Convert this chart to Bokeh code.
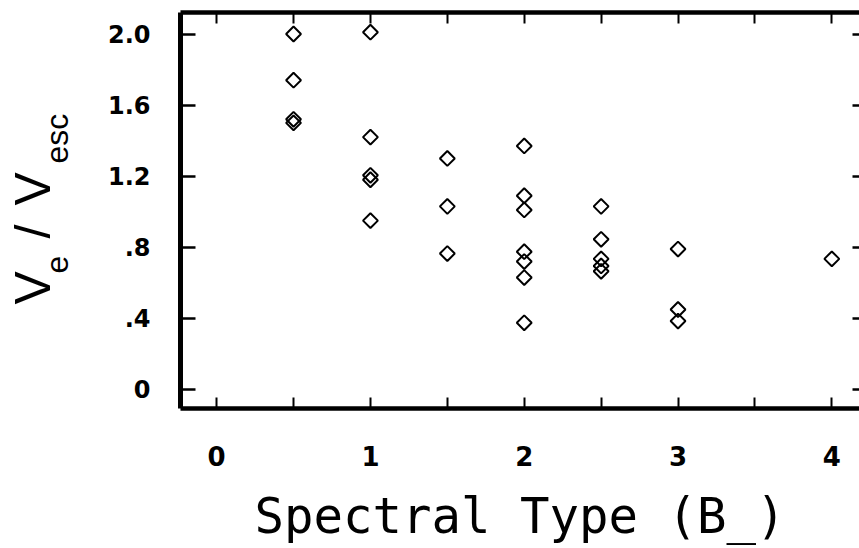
import numpy as np
from bokeh.plotting import figure
from bokeh.models import LinearAxis, FixedTicker, Range1d
from bokeh.layouts import row
from bokeh.core.properties import value
from bokeh.embed import file_html
from bokeh.resources import INLINE

# ---- data ----
spectral_type = [0.5, 0.5, 0.5, 0.5,
                 1, 1, 1, 1, 1,
                 1.5, 1.5, 1.5,
                 2, 2, 2, 2, 2, 2, 2,
                 2.5, 2.5, 2.5, 2.5, 2.5,
                 3, 3, 3,
                 4]
ve_over_vesc = [2.00, 1.74, 1.52, 1.50,
                2.01, 1.42, 1.205, 1.18, 0.95,
                1.30, 1.03, 0.765,
                1.37, 1.09, 1.01, 0.775, 0.72, 0.63, 0.375,
                1.03, 0.845, 0.735, 0.695, 0.665,
                0.79, 0.45, 0.385,
                0.735]

x_ticks = [0, 1, 2, 3, 4]
x_minor_ticks = [0.5, 1.5, 2.5, 3.5]
x_tick_labels = ["0", "1", "2", "3", "4"]
y_ticks = [0, 0.4, 0.8, 1.2, 1.6, 2.0]
y_tick_labels = ["0", ".4", ".8", "1.2", "1.6", "2.0"]
x_title = "Spectral Type (B_)"
# y title pieces: V_e / V_esc  (big / subscript)
y_title_big = ["V", "/", "V"]
y_title_sub = ["e", "esc"]

# ---- layout ----
W, H = 859, 548
LW = 96                      # width of the strip that holds the y title
FL, FR, FT, FB = 180, 859, 12, 408
X0, X1 = -0.235, 4.18
Y0, Y1 = -0.107, 2.121

p = figure(width=W - LW, height=H, x_range=Range1d(X0, X1), y_range=Range1d(Y0, Y1),
           output_backend="svg", toolbar_location=None,
           x_axis_location=None, y_axis_location=None,
           min_border_left=FL - LW, min_border_right=W - FR,
           min_border_top=FT, min_border_bottom=H - FB)
p.grid.visible = False
p.outline_line_color = None
p.background_fill_color = "white"
p.border_fill_color = "white"

TICK_FONT = "DejaVu Sans"

def xaxis(loc, labels):
    ax = LinearAxis(ticker=FixedTicker(ticks=x_ticks, minor_ticks=x_minor_ticks))
    ax.axis_line_width = 4.5
    ax.axis_line_color = "black"
    ax.major_tick_in = 11
    ax.major_tick_out = 0
    ax.minor_tick_in = 11
    ax.minor_tick_out = 0
    ax.major_tick_line_width = 2
    ax.minor_tick_line_width = 2
    ax.major_tick_line_color = "black"
    ax.minor_tick_line_color = "black"
    if labels:
        ax.major_label_overrides = {t: l for t, l in zip(x_ticks, x_tick_labels)}
        ax.major_label_text_font = TICK_FONT
        ax.major_label_text_font_style = "bold"
        ax.major_label_text_font_size = "26px"
        ax.major_label_text_color = "black"
        ax.major_label_standoff = 37
        ax.axis_label = x_title
        ax.axis_label_text_font = "DejaVu Sans Mono"
        ax.axis_label_text_font_style = "normal"
        ax.axis_label_text_font_size = "49px"
        ax.axis_label_text_color = "black"
        ax.axis_label_standoff = 19
    else:
        ax.major_label_overrides = {t: "" for t in x_ticks}
        ax.major_label_standoff = 0
    p.add_layout(ax, loc)
    return ax

def yaxis(loc, labels, tick_len, line_w):
    ax = LinearAxis(ticker=FixedTicker(ticks=y_ticks, minor_ticks=[]))
    ax.axis_line_width = line_w
    ax.axis_line_color = "black" if line_w > 0 else None
    ax.major_tick_in = tick_len
    ax.major_tick_out = 0
    ax.major_tick_line_width = 2.5
    ax.major_tick_line_color = "black"
    if labels:
        ax.major_label_overrides = {t: l for t, l in zip(y_ticks, y_tick_labels)}
        ax.major_label_text_font = TICK_FONT
        ax.major_label_text_font_style = "bold"
        ax.major_label_text_font_size = "24px"
        ax.major_label_text_color = "black"
        ax.major_label_standoff = 30
    else:
        ax.major_label_overrides = {t: "" for t in y_ticks}
        ax.major_label_standoff = 0
    p.add_layout(ax, loc)
    return ax

xaxis("below", True)
xaxis("above", False)
yaxis("left", True, 15, 5)
yaxis("right", False, 7, 0)

p.scatter(spectral_type, ve_over_vesc, marker="square", angle=np.pi / 4,
          size=10.5, line_color="black", line_width=2, fill_color=None)

# ---- y title strip: frame aligned with the main frame (row aligns frames);
#      coordinates are pixel-like: x from the left, y = H - (pixels from top)
t = figure(width=LW, height=H, x_range=Range1d(0, LW), y_range=Range1d(H - FB, H - FT),
           output_backend="svg", toolbar_location=None,
           x_axis_location=None, y_axis_location=None,
           min_border_left=0, min_border_right=0,
           min_border_top=FT, min_border_bottom=H - FB)
t.grid.visible = False
t.outline_line_color = None
t.background_fill_color = "white"
t.border_fill_color = "white"

big_base_x, big_start_y = 32, [304, 238, 205]
sub_base_x, sub_start_y = 56, [273, 163]
t.text(x=[big_base_x] * len(y_title_big), y=[H - v for v in big_start_y],
       text=y_title_big, angle=np.pi / 2, text_align="left",
       text_baseline="alphabetic", text_font=value("Liberation Sans"),
       text_font_size="50px", text_color="black")
t.text(x=[sub_base_x] * len(y_title_sub), y=[H - v for v in sub_start_y],
       text=y_title_sub, angle=np.pi / 2, text_align="left",
       text_baseline="alphabetic", text_font=value("Liberation Sans"),
       text_font_size="32px", text_color="black")

layout = row(t, p)
open("out.html", "w").write(file_html(layout, INLINE))
